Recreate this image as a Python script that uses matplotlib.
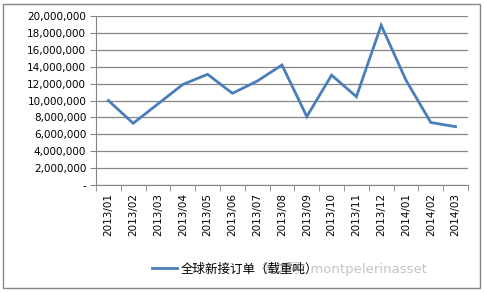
import matplotlib
matplotlib.use("Agg")
import matplotlib.pyplot as plt
import numpy as np
from matplotlib.ticker import FuncFormatter, FixedLocator

plt.rcParams['font.family'] = ['DejaVu Sans', 'Noto Sans CJK SC']

months = ["2013/01", "2013/02", "2013/03", "2013/04", "2013/05", "2013/06",
          "2013/07", "2013/08", "2013/09", "2013/10", "2013/11", "2013/12",
          "2014/01", "2014/02", "2014/03"]
orders = [10.0, 7.3, 9.6, 11.9, 13.1, 10.85, 12.3, 14.2, 8.1, 13.0, 10.45,
          18.9, 12.4, 7.4, 6.9]
orders = [v * 1e6 for v in orders]
series_label = "全球新接订单（载重吨）"
watermark = "微信号: montpelerinasset"

fig = plt.figure(figsize=(4.85, 2.93), dpi=100)
ax = fig.add_axes([96 / 485, 1 - 185 / 293, (468 - 96) / 485, (185 - 16) / 293])

x = np.arange(len(months))
line, = ax.plot(x, orders, color="#4a7ebb", lw=2.0, solid_joinstyle="miter",
                label=series_label)

ax.set_xlim(-0.5, len(months) - 0.5)
ax.set_ylim(0, 20e6)
ax.set_yticks(np.arange(0, 20e6 + 1, 2e6))
ax.yaxis.set_major_formatter(FuncFormatter(
    lambda v, p: "-" if v == 0 else "{:,.0f}".format(v)))
ax.grid(axis="y", color="#868686", lw=0.9)
ax.set_axisbelow(True)

ax.set_xticks(x)
ax.set_xticklabels(months, rotation=90, fontsize=7.5)
ax.xaxis.set_minor_locator(FixedLocator(np.arange(-0.5, len(months), 1)))
ax.tick_params(axis="x", which="major", length=0, pad=6)
ax.tick_params(axis="x", which="minor", length=4, color="#868686")
ax.tick_params(axis="y", length=4, color="#868686", labelsize=7.5, pad=3)

for s in ["top", "right"]:
    ax.spines[s].set_visible(False)
for s in ["left", "bottom"]:
    ax.spines[s].set_color("#868686")

# legend below the axis
fig.legend(handles=[line], loc="center left", bbox_to_anchor=(152 / 485, 1 - 269 / 293),
           frameon=False, fontsize=9, handlelength=2.0, handletextpad=0.3,
           borderpad=0, borderaxespad=0)
fig.text(262 / 485, 1 - 269 / 293, watermark, color="#c4c4c4", fontsize=9.5,
         va="center", ha="left")

# outer frame
fig.patches.append(plt.Rectangle((3 / 485, 5 / 293), 477 / 485, 284 / 293,
                                 transform=fig.transFigure, fill=False,
                                 edgecolor="#868686", lw=1))

fig.savefig("out.png", dpi=100)
